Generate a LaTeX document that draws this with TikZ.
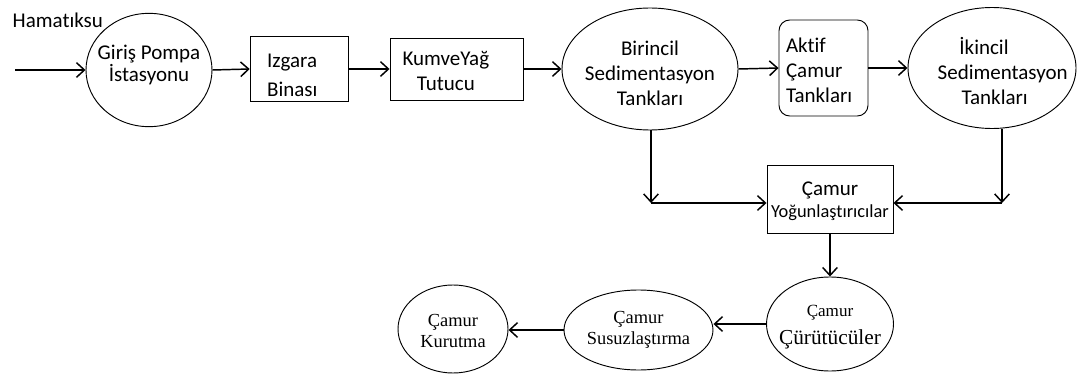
\documentclass[tikz,border=0pt]{standalone}
\usepackage{fontspec}
\setmainfont{Carlito}[Ligatures=NoCommon]
\newfontfamily\timesrm{Liberation Serif}
\usetikzlibrary{shapes.geometric, arrows.meta}
\newcommand{\shiftbox}[2]{\raisebox{#1}[\height][\depth]{#2}}
\newcommand{\ctext}[2][0pt]{\shiftbox{#1}{\makebox[0pt]{\begin{tabular}{@{}c@{}}#2\end{tabular}}}}
\newcommand{\ltext}[3][0pt]{\makebox[#2][l]{\shiftbox{#1}{\begin{tabular}{@{}l@{}}#3\end{tabular}}}}
\tikzset{
	unit/.style    ={rectangle, draw=black, line width=0.7pt, inner sep=2pt},
	tank/.style    ={rectangle, rounded corners=8pt, draw=black, line width=0.7pt},
	basin/.style   ={ellipse, draw=black, line width=0.7pt, inner sep=0pt},
	flowarrow/.style={-{Straight Barb[length=6pt, width=11pt]}, line width=1.1pt},
	% fonts
	calfont/.style ={font=\fontsize{15.75}{18.5}\selectfont},
	tmsfont/.style ={font=\timesrm\fontsize{13.8}{16}\selectfont},
}

\begin{document}
\begin{tikzpicture}[x=0.75pt, y=-0.75pt, calfont]
	\useasboundingbox (0,0) rectangle (1078,374);
	% top row
	\node[anchor=west] (hm) at (8,20) {Hamatıksu};
	\node[basin, minimum width=94.5pt, minimum height=85pt] (gp) at (149,70)
		{\ctext[3pt]{Giriş Pompa\\[-2pt]İstasyonu}};
	\node[unit, minimum height=49pt, inner xsep=12.75pt] (ig) at (299.5,69)
		{\ltext[-6pt]{48.5pt}{Izgara\\[3pt]Binası}};
	\node[unit, minimum width=99.75pt, minimum height=46.5pt] (kv) at (456.5,69)
		{\ctext[-3pt]{\makebox[0pt]{\kern-16pt KumveYağ}\\\makebox[0pt]{\kern-16pt Tutucu}}};
	\node[basin, minimum width=132pt, minimum height=91.5pt] (bs) at (650,69)
		{\ctext[-5pt]{Birincil\\Sedimentasyon\\Tankları}};
	\node[tank, minimum height=72pt, inner xsep=5.25pt] (ak) at (823.5,68)
		{\ltext[-3.5pt]{56.25pt}{Aktif\\Çamur\\Tankları}};
	\node[basin, minimum width=126pt, minimum height=90.75pt] (is) at (992,68)
		{\ctext[-5pt]{\makebox[0pt]{\kern-12pt İkincil}\\\makebox[0pt]{\kern16pt Sedimentasyon}\\\makebox[0pt]{\kern4pt Tankları}}};
	% sludge line
	\node[unit, minimum width=94.5pt, minimum height=51pt] (cy) at (830,199)
		{\ctext[-2pt]{Çamur\\[-2pt]{\fontsize{13.8}{16}\selectfont Yoğunlaştırıcılar}}};
	\node[basin, tmsfont, minimum width=95.25pt, minimum height=70.5pt] (cc) at (830,324)
		{\ctext[-2pt]{{\fontsize{12.8}{15}\selectfont Çamur}\\[5pt]{\fontsize{16}{18}\selectfont Çürütücüler}}};
	\node[basin, tmsfont, minimum width=111.75pt, minimum height=60pt] (cs) at (638.5,330)
		{\ctext{Çamur\\Susuzlaştırma}};
	\node[basin, tmsfont, minimum width=82.5pt, minimum height=66pt] (ck) at (453,329)
		{\ctext[-3pt]{Çamur\\Kurutma}};
	% connectors
	\coordinate (in) at (15,70);
	\coordinate (bl) at (651,203);
	\coordinate (ir) at (1002,203);
	\draw[flowarrow] (in) -- (gp.west);
	\draw[flowarrow] (gp.east) -- (ig.west);
	\draw[flowarrow] (ig.east) -- (kv.west);
	\draw[flowarrow] (kv.east) -- (bs.west);
	\draw[flowarrow] (bs.east) -- (ak.west);
	\draw[flowarrow] (ak.east) -- (is.west);
	\draw[flowarrow] (bs.south -| bl) -- (bl);
	\draw[flowarrow] (bl) -- (bl -| cy.west);
	\draw[flowarrow] (is.south -| ir) -- (ir);
	\draw[flowarrow] (ir) -- (ir -| cy.east);
	\draw[flowarrow] (cy.south) -- (cc.north);
	\draw[flowarrow] (cc.west) -- (cc.west -| cs.east);
	\draw[flowarrow] (cs.west) -- (cs.west -| ck.east);
\end{tikzpicture}
\end{document}
